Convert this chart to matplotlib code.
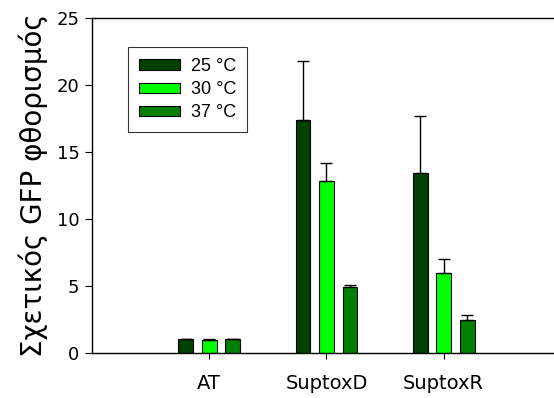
import matplotlib
matplotlib.use("Agg")
import matplotlib.pyplot as plt
import numpy as np

categories = ["AT", "SuptoxD", "SuptoxR"]
temps = ["25 °C", "30 °C", "37 °C"]
values = {
    "25 °C": [1.02, 17.4, 13.4],
    "30 °C": [1.0, 12.8, 6.0],
    "37 °C": [1.02, 4.95, 2.5],
}
errors = {
    "25 °C": [0.03, 4.4, 4.3],
    "30 °C": [0.02, 1.35, 1.0],
    "37 °C": [0.03, 0.15, 0.3],
}
colors = ["#004000", "#00ff00", "#008000"]

fig = plt.figure(figsize=(5.54, 3.98), dpi=100)
ax = fig.add_axes([92 / 554, 45 / 398, 1 - 92 / 554 + 0.002, 335 / 398])

x = np.arange(1, len(categories) + 1)
width = 0.125
offsets = [-0.2, 0.0, 0.2]
for t, c, off in zip(temps, colors, offsets):
    ax.bar(x + off, values[t], width, color=c, edgecolor="black", linewidth=0.8,
           label=t, zorder=2)
    ax.errorbar(x + off, values[t], yerr=[np.zeros(len(x)), errors[t]], fmt="none",
                ecolor="black", elinewidth=1, capsize=4.5, capthick=1, zorder=3)

ax.set_xlim(0, 3.95)
ax.set_ylim(0, 25)
ax.set_yticks([0, 5, 10, 15, 20, 25])
ax.set_xticks(x)
ax.set_xticklabels(categories)
ax.spines["right"].set_visible(False)
for s in ["left", "top", "bottom"]:
    ax.spines[s].set_linewidth(1)
ax.tick_params(axis="y", direction="out", length=5, labelsize=13, pad=4)
ax.tick_params(axis="x", direction="out", length=4, labelsize=14, pad=11)
ax.set_ylabel("Σχετικός GFP φθορισμός", fontsize=20, labelpad=6)

leg = ax.legend(loc="upper left", bbox_to_anchor=(36 / 462, 1 - 29 / 335),
                frameon=True, fancybox=False, edgecolor="black",
                prop={"family": "Liberation Sans", "size": 13},
                handlelength=2.3, handleheight=0.5, labelspacing=0.35,
                borderpad=0.6, handletextpad=0.6, borderaxespad=0)
leg.get_frame().set_linewidth(0.8)

fig.savefig("out.png", dpi=100)
